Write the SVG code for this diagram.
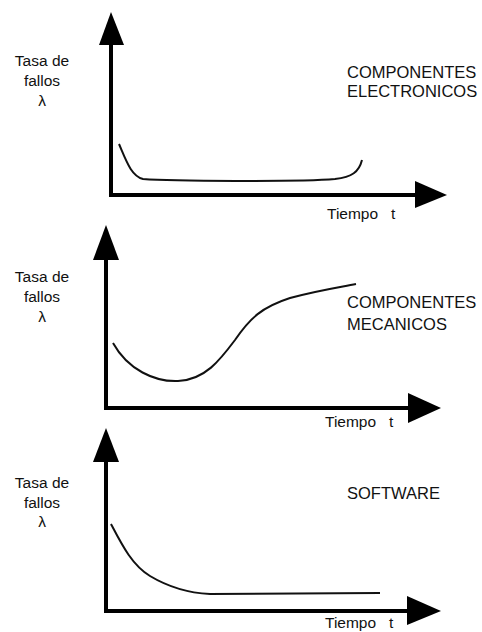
<svg xmlns="http://www.w3.org/2000/svg" width="482" height="632" viewBox="0 0 482 632">
<style>
text{font-family:"Liberation Sans","DejaVu Sans",sans-serif;fill:#111}
.lbl{font-size:15.5px;text-anchor:middle}
.ttl{font-size:16.5px}
.tm{font-size:15.5px}
.axis{stroke:#000;stroke-width:4;fill:none}
.head{fill:#000}
.curve{stroke:#111;stroke-width:2;fill:none}
</style>
<rect width="482" height="632" fill="#fff"/>
<g id="chart1">
  <g id="axes1">
    <path class="axis" d="M111,42 V195 H417"/>
    <polygon class="head" points="99,45 111,12 124,45"/>
    <polygon class="head" points="415,181 447,195 415,208"/>
  </g>
  <path id="curve1" class="curve" d="M119,144 C126,160 131,176 143,179 C170,181 300,182 335,179 C352,177 359,172 362,160"/>
  <g id="ylabel1">
    <text class="lbl" x="42" y="66">Tasa de</text>
    <text class="lbl" x="42" y="86">fallos</text>
    <text class="lbl" x="42" y="106">λ</text>
  </g>
  <g id="title1">
    <text class="ttl" x="347" y="78">COMPONENTES</text>
    <text class="ttl" x="347" y="97">ELECTRONICOS</text>
  </g>
  <g id="xlabel1">
    <text class="tm" x="327" y="219">Tiempo</text>
    <text class="tm" x="391" y="219">t</text>
  </g>
</g>
<g id="chart2">
  <g id="axes2">
    <path class="axis" d="M106,258 V408 H410"/>
    <polygon class="head" points="93,260 106,225 119,260"/>
    <polygon class="head" points="408,393 441,408 408,423"/>
  </g>
  <path id="curve2" class="curve" d="M113,343 C128,370 155,382 178,381 C205,380 220,360 235,340 C250,318 262,307 290,298 C315,291 335,288 356,284"/>
  <g id="ylabel2">
    <text class="lbl" x="42" y="282">Tasa de</text>
    <text class="lbl" x="42" y="302">fallos</text>
    <text class="lbl" x="42" y="322">λ</text>
  </g>
  <g id="title2">
    <text class="ttl" x="347" y="308">COMPONENTES</text>
    <text class="ttl" x="347" y="330">MECANICOS</text>
  </g>
  <g id="xlabel2">
    <text class="tm" x="325" y="427">Tiempo</text>
    <text class="tm" x="389" y="427">t</text>
  </g>
</g>
<g id="chart3">
  <g id="axes3">
    <path class="axis" d="M106,460 V611 H409"/>
    <polygon class="head" points="93,462 106,428 119,462"/>
    <polygon class="head" points="407,596 441,611 407,625"/>
  </g>
  <path id="curve3" class="curve" d="M111,524 C122,545 132,565 150,576 C170,588 190,593 210,594 L380,593"/>
  <g id="ylabel3">
    <text class="lbl" x="42" y="488">Tasa de</text>
    <text class="lbl" x="42" y="508">fallos</text>
    <text class="lbl" x="42" y="527">λ</text>
  </g>
  <text id="title3" class="ttl" x="347" y="499">SOFTWARE</text>
  <g id="xlabel3">
    <text class="tm" x="325" y="628">Tiempo</text>
    <text class="tm" x="389" y="628">t</text>
  </g>
</g>
</svg>
